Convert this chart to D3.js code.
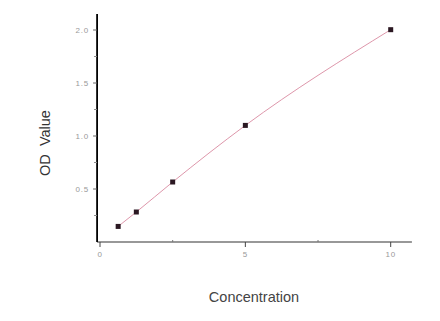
<!DOCTYPE html>
<html>
<head>
<meta charset="utf-8">
<script src="https://d3js.org/d3.v7.min.js"></script>
<style>
  body { margin: 0; background: #fff; }
  text { font-family: "Liberation Sans", Arial, sans-serif; }
</style>
</head>
<body>
<div id="chart"></div>
<script>
// standard curve readings
var concentration = [0.625, 1.25, 2.5, 5, 10];
var odValue = [0.147, 0.283, 0.566, 1.10, 2.003];
var xTicks = [0, 5, 10];
var xMinor = [2.5, 7.5];
var yTicks = [0.5, 1.0, 1.5, 2.0];
var yMinor = [0.25, 0.75, 1.25, 1.75];

var W = 440, H = 321;
var svg = d3.select("#chart").append("svg")
  .attr("width", W).attr("height", H);

// plot box
var x = d3.scaleLinear().domain([0, 10]).range([100, 390.7]);
var y = d3.scaleLinear().domain([0, 2]).range([242, 30]);

var xMin = -0.1, xMax = 10.73, yMax = 2.15;

// x axis
var gx = svg.append("g").attr("transform", "translate(0," + y(0) + ")");
gx.append("line")
  .attr("x1", x(xMin)).attr("x2", x(xMax))
  .attr("stroke", "#333").attr("stroke-width", 1.2);
gx.selectAll(".maj").data(xTicks).enter().append("line")
  .attr("x1", d => x(d)).attr("x2", d => x(d))
  .attr("y1", 0).attr("y2", 5)
  .attr("stroke", "#444");
gx.selectAll(".mnr").data(xMinor).enter().append("line")
  .attr("x1", d => x(d)).attr("x2", d => x(d))
  .attr("y1", -2).attr("y2", 0)
  .attr("stroke", "#777");
gx.selectAll("text").data(xTicks).enter().append("text")
  .attr("x", d => x(d)).attr("y", 15)
  .attr("text-anchor", "middle")
  .style("font-size", "8px").style("letter-spacing", "0.8px").attr("fill", "#999")
  .text(d => d);

// y axis
var gy = svg.append("g").attr("transform", "translate(" + x(xMin) + ",0)");
gy.append("line")
  .attr("y1", y(0)).attr("y2", y(yMax))
  .attr("stroke", "#000").attr("stroke-width", 1.8);
gy.selectAll(".maj").data(yTicks).enter().append("line")
  .attr("x1", -4).attr("x2", 0)
  .attr("y1", d => y(d)).attr("y2", d => y(d))
  .attr("stroke", "#666");
gy.selectAll(".mnr").data(yMinor).enter().append("line")
  .attr("x1", -3).attr("x2", 0)
  .attr("y1", d => y(d)).attr("y2", d => y(d))
  .attr("stroke", "#888");
gy.selectAll("text").data(yTicks).enter().append("text")
  .attr("x", -8).attr("y", d => y(d)).attr("dy", "0.35em")
  .attr("text-anchor", "end")
  .style("font-size", "8px").style("letter-spacing", "0.8px").attr("fill", "#999")
  .text(d => d.toFixed(1));

// fitted curve
var pts = concentration.map((c, i) => [c, odValue[i]]);
var line = d3.line()
  .x(d => x(d[0])).y(d => y(d[1]))
  .curve(d3.curveMonotoneX);
svg.append("path")
  .attr("d", line(pts))
  .attr("fill", "none")
  .attr("stroke", "#d98aa0")
  .attr("stroke-width", 0.9);

// points
svg.selectAll(".pt").data(pts).enter().append("rect")
  .attr("x", d => x(d[0]) - 2.5).attr("y", d => y(d[1]) - 2.5)
  .attr("width", 5).attr("height", 5)
  .attr("fill", "#2b1822");

// titles
svg.append("text")
  .attr("x", 254).attr("y", 302)
  .attr("text-anchor", "middle")
  .style("font-size", "14.5px").attr("fill", "#444")
  .text("Concentration");
svg.append("text")
  .attr("transform", "translate(50,143) rotate(-90)")
  .attr("text-anchor", "middle")
  .style("font-size", "14.5px").style("white-space", "pre").attr("fill", "#333")
  .text("OD  Value");
</script>
</body>
</html>
